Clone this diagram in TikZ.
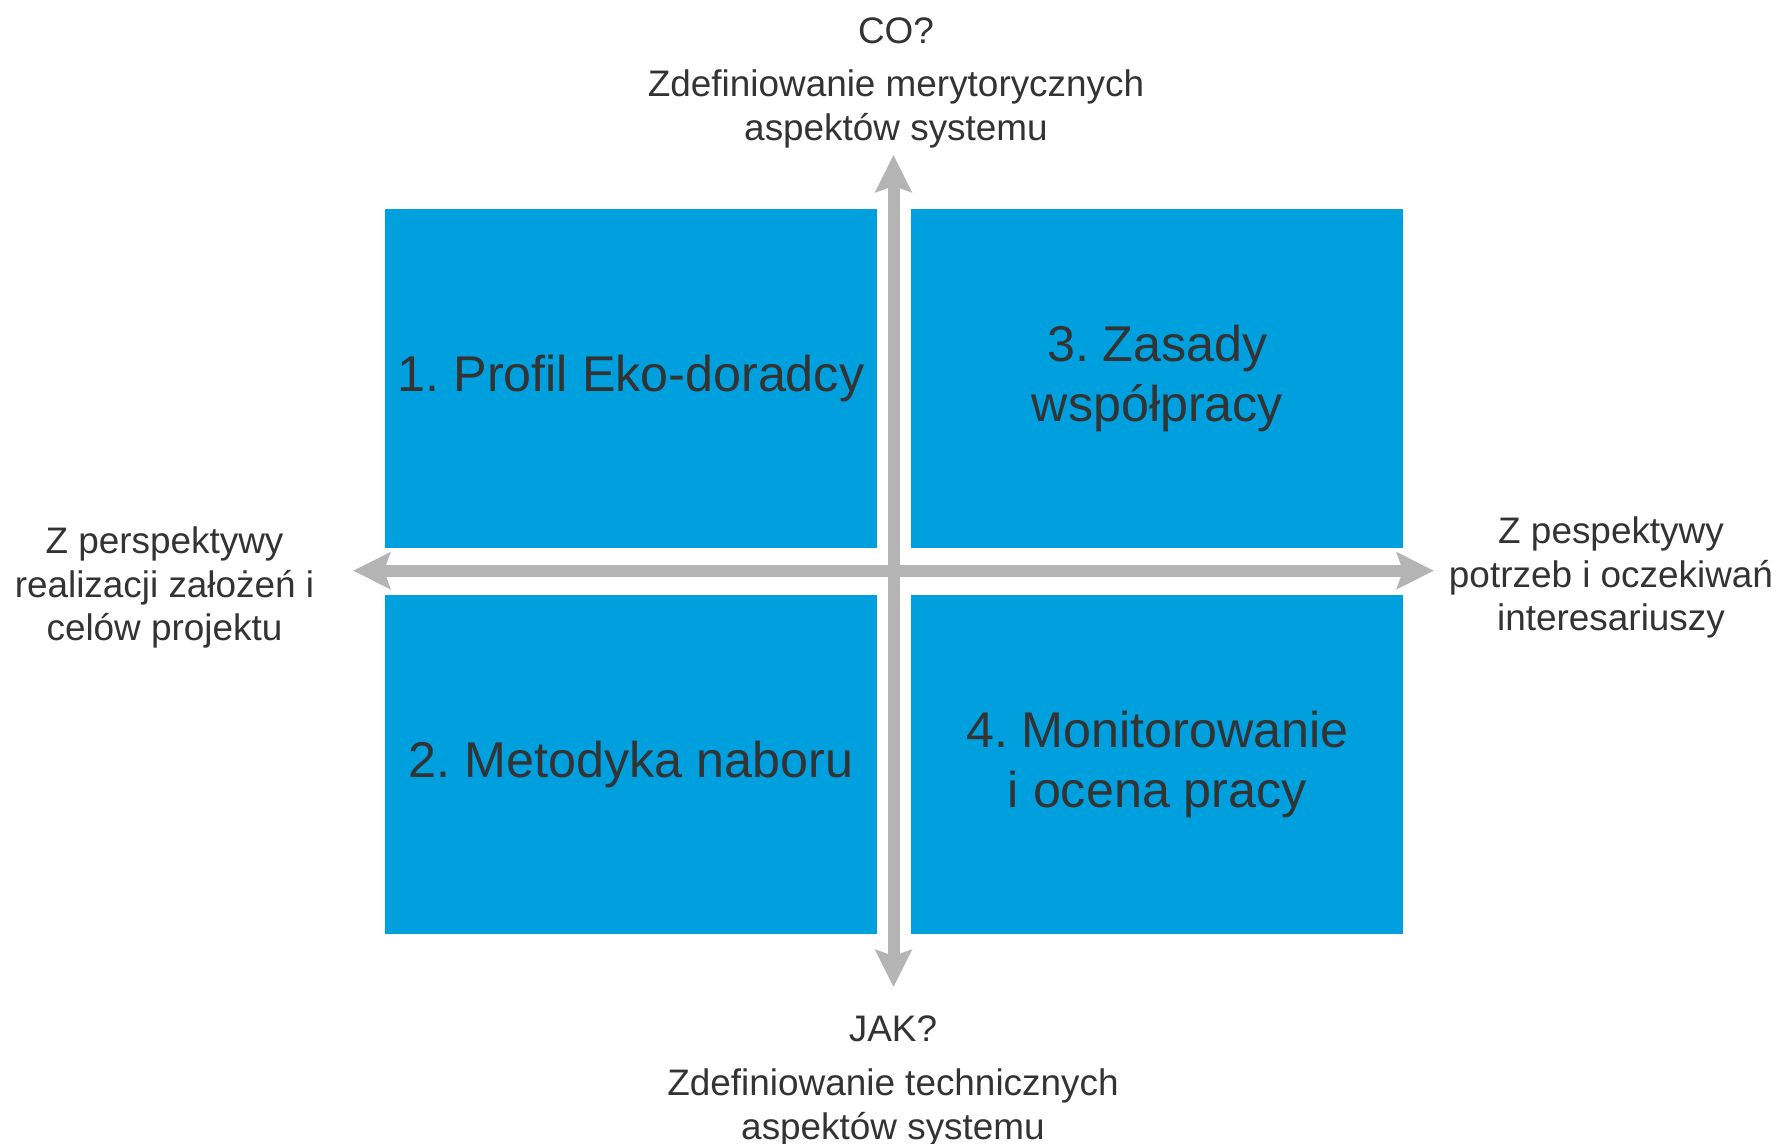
\documentclass[tikz,border=0pt]{standalone}
\usepackage{fontspec}
\setmainfont{Liberation Sans}
\frenchspacing
\usepackage{tikz}
\usetikzlibrary{arrows.meta, positioning}
\definecolor{quadblue}{RGB}{0,160,223}
\definecolor{axisgray}{RGB}{180,180,180}
\definecolor{textgray}{RGB}{51,51,51}
\tikzstyle{quad} = [rectangle, minimum width=4.92cm, minimum height=3.39cm, inner sep=0pt, align=center, fill=quadblue, text=textgray, font=\fontsize{14.3}{17.1}\selectfont]
\tikzstyle{axistext} = [inner sep=0pt, align=center, text=textgray, font=\fontsize{10.5}{12.5}\selectfont]
\tikzstyle{axisarrow} = [draw=axisgray, line width=0.12cm, {Stealth[length=0.37cm, width=0.36cm, inset=0.06cm]}-{Stealth[length=0.37cm, width=0.36cm, inset=0.06cm]}]

\begin{document}
\begin{tikzpicture}
\useasboundingbox (0,0) rectangle (17.79,11.43);
% Quadrants
\node (profil) [quad] at (6.31,7.646) {1. Profil Eko-doradcy};
\node (zasady) [quad, right=0.33cm of profil] {3. Zasady\\współpracy};
\node (metodyka) [quad, below=0.454cm of profil] {2. Metodyka naboru};
\node (monitoring) [quad, right=0.33cm of metodyka] {4. Monitorowanie\\i ocena pracy};
% Axis ends
\coordinate (upEnd) at (8.935,9.88);
\coordinate (downEnd) at (8.935,1.56);
\coordinate (leftEnd) at (3.53,5.723);
\coordinate (rightEnd) at (14.34,5.723);
% Axes
\draw [axisarrow] (leftEnd) -- (rightEnd);
\draw [axisarrow] (downEnd) -- (upEnd);
% Axis labels
\node (co) [axistext] at (8.96,11.124) {CO?};
\node (coDesc) [axistext] at (8.96,10.34) {Zdefiniowanie merytorycznych\\aspektów systemu};
\node (jak) [axistext] at (8.93,1.14) {JAK?};
\node (jakDesc) [axistext] at (8.93,0.355) {Zdefiniowanie technicznych\\aspektów systemu};
\node (leftDesc) [axistext] at (1.645,5.555) {Z perspektywy\\realizacji założeń i\\celów projektu};
\node (rightDesc) [axistext] at (16.11,5.655) {Z pespektywy\\potrzeb i oczekiwań\\interesariuszy};
\end{tikzpicture}
\end{document}
